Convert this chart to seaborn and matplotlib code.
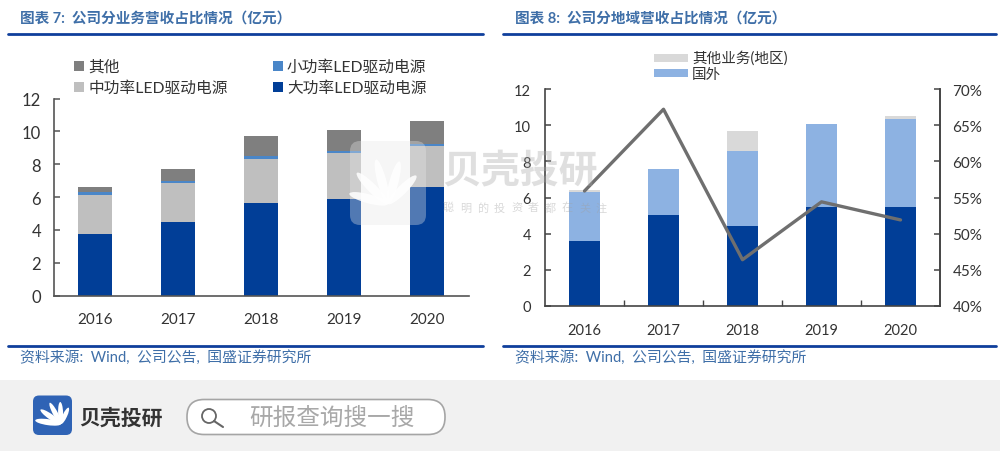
import math
import matplotlib
matplotlib.use("Agg")
import matplotlib.pyplot as plt
from matplotlib.patches import Rectangle, FancyBboxPatch, Circle, Ellipse
from matplotlib.lines import Line2D
import seaborn as sns
import pandas as pd

sns.set_theme(style="white")
plt.rcParams['font.family'] = ['Lato', 'Noto Sans CJK SC', 'DejaVu Sans']

W, H = 1000, 452
years = ['2016', '2017', '2018', '2019', '2020']

# left chart
big_power = [3.75, 4.5, 5.65, 5.85, 6.6]
mid_power = [2.4, 2.33, 2.68, 2.85, 2.48]
small_power = [0.15, 0.13, 0.14, 0.13, 0.13]
other_biz = [0.3, 0.74, 1.23, 1.27, 1.39]

# right chart
domestic = [3.6, 5.05, 4.45, 5.45, 5.45]
overseas = [2.7, 2.55, 4.1, 4.6, 4.9]
other_region = [0.1, 0.0, 1.1, 0.0, 0.15]
domestic_share = [0.559, 0.672, 0.464, 0.544, 0.519]

left_labels = ['其他', '小功率LED驱动电源', '中功率LED驱动电源', '大功率LED驱动电源']
right_labels = ['其他业务(地区)', '国外']
title_left = '图表 7:  公司分业务营收占比情况（亿元）'
title_right = '图表 8:  公司分地域营收占比情况（亿元）'
source = '资料来源:  Wind,  公司公告,  国盛证券研究所'
watermark_sub = '聪明的投资者都在关注'

NAVY, MIDBLUE, LBLUE = '#013e97', '#4a86c8', '#8db2e2'
GRAY, LGRAY, VLGRAY, LINE = '#7f7f7f', '#bfbfbf', '#d9d9d9', '#6f6f6f'
TXT = '#333333'
TITLE_C = '#3f6fa8'
RULE = '#0f3f9c'

fig = plt.figure(figsize=(W / 100, H / 100), dpi=100, facecolor='white')

def make_ax(l, r, t, b, **kw):
    return fig.add_axes([l / W, 1 - b / H, (r - l) / W, (b - t) / H], **kw)

def stacked(ax, series, colors, width):
    bottom = [0.0] * len(years)
    for vals, c in zip(series, colors):
        df = pd.DataFrame({'year': years, 'v': vals})
        sns.barplot(data=df, x='year', y='v', color=c, width=width, bottom=bottom,
                    saturation=1, ax=ax, errorbar=None, linewidth=0)
        bottom = [a + b for a, b in zip(bottom, vals)]
    ax.set_xlabel('')
    ax.set_ylabel('')
    ax.set_xlim(-0.5, 4.5)
    ax.set_ylim(0, 12)
    ax.set_yticks(range(0, 13, 2))

# ---------- left
ax1 = make_ax(53.5, 469, 99.5, 296.5)
ax1.patch.set_alpha(0)
stacked(ax1, [big_power, mid_power, small_power, other_biz],
        [NAVY, LGRAY, MIDBLUE, GRAY], 0.41)
sns.despine(ax=ax1, right=True, top=True)
for s in ('left', 'bottom'):
    ax1.spines[s].set_color('#555555')
    ax1.spines[s].set_linewidth(1.2)
ax1.tick_params(axis='y', length=4, width=1.1, color='#555555', direction='in',
                labelsize=12, labelcolor=TXT, pad=9, left=True)
ax1.tick_params(axis='x', length=0, labelsize=11, labelcolor=TXT, pad=12)

# ---------- right
ax2 = make_ax(545, 940, 90, 307)
ax2.patch.set_alpha(0)
stacked(ax2, [domestic, overseas, other_region], [NAVY, LBLUE, VLGRAY], 0.4)
for s in ('left', 'right', 'bottom'):
    ax2.spines[s].set_color('#444444')
    ax2.spines[s].set_linewidth(1.2)
ax2.spines['top'].set_visible(False)
ax2.set_xticks([i - 0.5 for i in range(1, 5)], minor=True)
ax2.tick_params(axis='x', which='minor', direction='in', length=4, width=1, color='#444444', bottom=True)
ax2.tick_params(axis='x', which='major', length=0, labelsize=10.5, labelcolor=TXT, pad=12)
ax2.tick_params(axis='y', direction='in', length=4, width=1.1, color='#444444',
                labelsize=10.5, labelcolor=TXT, pad=10, left=True)
ax2b = ax2.twinx()
sns.lineplot(x=[0, 1, 2, 3, 4], y=domestic_share, color=LINE, linewidth=2.4, ax=ax2b,
             errorbar=None)
ax2b.set_ylim(0.40, 0.70)
ax2b.set_yticks([0.40, 0.45, 0.50, 0.55, 0.60, 0.65, 0.70])
ax2b.set_yticklabels(['40%', '45%', '50%', '55%', '60%', '65%', '70%'])
ax2b.set_ylabel('')
ax2b.grid(False)
ax2b.patch.set_alpha(0)
for s in ('left', 'top', 'bottom'):
    ax2b.spines[s].set_visible(False)
ax2b.spines['right'].set_color('#444444')
ax2b.spines['right'].set_linewidth(1.2)
ax2b.tick_params(axis='y', direction='in', length=4, width=1.1, color='#444444',
                 labelsize=11, labelcolor=TXT, pad=9, right=True)

# ---------- overlay
ov = fig.add_axes([0, 0, 1, 1], zorder=10)
ov.set_xlim(0, W)
ov.set_ylim(H, 0)
ov.axis('off')
ov.patch.set_alpha(0)

# rules and titles
for x0, x1 in ((8, 483), (503, 996)):
    for y in (34.5, 347):
        ov.add_line(Line2D([x0, x1], [y, y], color=RULE, lw=2))
ov.text(20, 18.5, title_left, fontsize=10.5, color=TITLE_C, va='center', fontweight='bold')
ov.text(515, 18.5, title_right, fontsize=10.5, color=TITLE_C, va='center', fontweight='bold')
ov.text(20, 357.5, source, fontsize=10.7, color=TITLE_C, va='center')
ov.text(515, 357.5, source, fontsize=10.7, color=TITLE_C, va='center')

# legends
for (x, y, c, lab) in ((74, 67, GRAY, left_labels[0]), (273, 67, MIDBLUE, left_labels[1]),
                       (74, 88, LGRAY, left_labels[2]), (273, 88, NAVY, left_labels[3])):
    ov.add_patch(Rectangle((x, y - 5), 10, 10, color=c, lw=0))
    ov.text(x + 14, y, lab, fontsize=11.3, color=TXT, va='center')
for (y, c, lab) in ((59, VLGRAY, right_labels[0]), (74, LBLUE, right_labels[1])):
    ov.add_patch(Rectangle((654, y - 4), 34, 8, color=c, lw=0))
    ov.text(692, y - 0.5 if y == 59 else y + 1, lab, fontsize=10.5, color=TXT, va='center')

# watermark
ov.add_patch(FancyBboxPatch((350, 142), 76, 84, boxstyle='round,pad=0,rounding_size=10',
                            fc='#e8e8e8', ec='none', alpha=0.35))
for ang, ln in ((165, 40), (135, 44), (105, 46), (75, 44), (45, 40)):
    bx, by = 388, 205
    r = math.radians(ang)
    ov.add_patch(Ellipse((bx + ln / 2 * math.cos(r), by - ln / 2 * math.sin(r)), ln, 9,
                         angle=-ang, fc='white', ec='none', alpha=0.85))
ov.text(442, 171, '贝壳投研', fontsize=28, color='#a5a5a5', alpha=0.35, va='center', fontweight='bold')
for i, ch in enumerate(watermark_sub):
    ov.text(443 + i * 17, 208, ch, fontsize=8, color='#a0a0a0', alpha=0.4, va='center')

# footer
ov.add_patch(Rectangle((0, 381), W, H - 381, fc='#f1f1f1', ec='none'))
ov.add_patch(FancyBboxPatch((33, 396.5), 39, 39.5, boxstyle='round,pad=0,rounding_size=6',
                            fc='#2f63b5', ec='none'))
for ang, ln, wd in ((172, 26, 6), (145, 25, 5.5), (118, 24, 5), (92, 22, 5), (65, 18, 4.5)):
    bx, by = 61, 425
    r = math.radians(ang)
    ov.add_patch(Ellipse((bx + ln / 2 * math.cos(r), by - ln / 2 * math.sin(r)), ln, wd,
                         angle=-ang, fc='white', ec='none'))
ov.text(79, 418, '贝壳投研', fontsize=15, color='#333333', va='center', fontweight='bold')
ov.add_patch(FancyBboxPatch((187, 400.5), 258, 35, boxstyle='round,pad=0,rounding_size=17',
                            fc='white', ec='#a5a5a5', lw=1.2))
ov.add_patch(Circle((209, 417), 7, fc='none', ec='#666666', lw=1.3))
ov.add_line(Line2D([214, 223], [422, 428], color='#666666', lw=1.5))
ov.text(249, 418, '研报查询搜一搜', fontsize=17, color='#a8a8a8', va='center')

fig.savefig('out.png', dpi=100)
